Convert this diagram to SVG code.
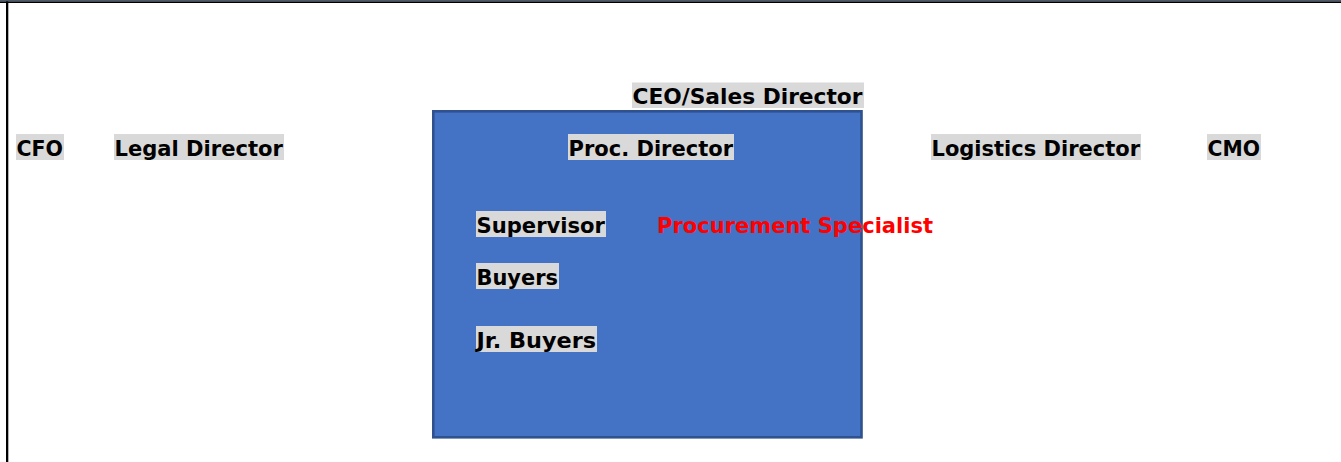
<svg xmlns="http://www.w3.org/2000/svg" width="1341" height="462" viewBox="0 0 1341 462">
  <style>
    .lbl-bg { fill: #d9d9d9; }
    .lbl { font-family: "DejaVu Sans", Verdana, sans-serif; font-weight: bold; font-size: 22px; fill: #000000; }
    .lbl-red { font-family: "DejaVu Sans", Verdana, sans-serif; font-weight: bold; font-size: 22px; fill: #ff0000; }
    .team { fill: #4472c4; stroke: #2f528f; stroke-width: 2.6; }
  </style>

  <!-- page frame -->
  <g id="frame">
    <rect x="0" y="0" width="1341" height="462" fill="#ffffff"/>
    <rect x="0" y="0" width="1341" height="1.4" fill="#4a5a70"/>
    <rect x="0" y="1.4" width="1341" height="1.6" fill="#000000"/>
    <rect x="6" y="1.4" width="2.3" height="460.6" fill="#000000"/>
  </g>

  <!-- procurement department block -->
  <g id="procurement-block">
    <rect class="team" x="433.3" y="111.3" width="428.2" height="326"/>
  </g>

  <g id="ceo">
    <rect class="lbl-bg" x="632" y="82.5" width="232" height="25.5"/>
    <text class="lbl" x="632.5" y="104" textLength="230" lengthAdjust="spacingAndGlyphs">CEO/Sales Director</text>
  </g>

  <g id="cfo">
    <rect class="lbl-bg" x="16" y="134" width="48" height="26"/>
    <text class="lbl" x="16.5" y="155.5" textLength="46.5" lengthAdjust="spacingAndGlyphs">CFO</text>
  </g>

  <g id="legal-director">
    <rect class="lbl-bg" x="114" y="134" width="170" height="26"/>
    <text class="lbl" x="114.5" y="155.5" textLength="168.5" lengthAdjust="spacingAndGlyphs">Legal Director</text>
  </g>

  <g id="proc-director">
    <rect class="lbl-bg" x="568" y="134" width="166" height="26"/>
    <text class="lbl" x="568.5" y="155.5" textLength="164.5" lengthAdjust="spacingAndGlyphs">Proc. Director</text>
  </g>

  <g id="logistics-director">
    <rect class="lbl-bg" x="931" y="134" width="210" height="26"/>
    <text class="lbl" x="931.5" y="155.5" textLength="208.5" lengthAdjust="spacingAndGlyphs">Logistics Director</text>
  </g>

  <g id="cmo">
    <rect class="lbl-bg" x="1207" y="134" width="54" height="26"/>
    <text class="lbl" x="1207.5" y="155.5" textLength="52.5" lengthAdjust="spacingAndGlyphs">CMO</text>
  </g>

  <g id="supervisor">
    <rect class="lbl-bg" x="476" y="211" width="130" height="26"/>
    <text class="lbl" x="476.5" y="232.5" textLength="128.5" lengthAdjust="spacingAndGlyphs">Supervisor</text>
  </g>

  <g id="procurement-specialist">
    <text class="lbl-red" x="657" y="233" textLength="276" lengthAdjust="spacingAndGlyphs">Procurement Specialist</text>
  </g>

  <g id="buyers">
    <rect class="lbl-bg" x="476" y="263" width="83" height="26"/>
    <text class="lbl" x="476.5" y="284.5" textLength="81.5" lengthAdjust="spacingAndGlyphs">Buyers</text>
  </g>

  <g id="jr-buyers">
    <rect class="lbl-bg" x="476" y="326" width="121" height="26"/>
    <text class="lbl" x="476.5" y="347.5" textLength="119.5" lengthAdjust="spacingAndGlyphs">Jr. Buyers</text>
  </g>
</svg>
